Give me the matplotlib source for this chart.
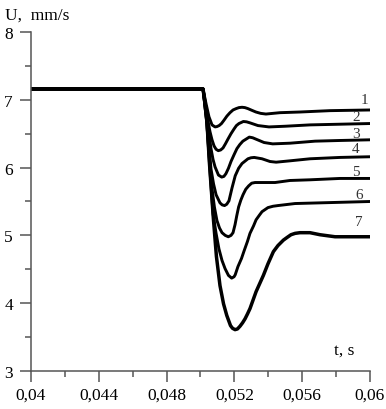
import matplotlib
matplotlib.use("Agg")
import matplotlib.pyplot as plt

plt.rcParams['font.family'] = ['Liberation Serif', 'DejaVu Serif']

# ---------------- data ----------------
# common flat part before the drop
T0 = [0.040, 0.05015]
U0 = [7.16, 7.16]

T1 = [0.05033, 0.05050, 0.05068, 0.05086, 0.05097, 0.05110, 0.05124, 0.05139, 0.05156,
      0.05174, 0.05192, 0.05210, 0.05227, 0.05245, 0.05262, 0.05280, 0.05303, 0.05327,
      0.05355, 0.05386, 0.05469, 0.05587, 0.05764, 0.06]
U1 = [6.94, 6.75, 6.63, 6.60, 6.605, 6.62, 6.65, 6.70, 6.76,
      6.81, 6.85, 6.87, 6.885, 6.89, 6.885, 6.87, 6.845, 6.82,
      6.80, 6.79, 6.81, 6.82, 6.84, 6.85]

T2 = [0.05033, 0.05044, 0.05056, 0.05068, 0.05080, 0.05092, 0.05105, 0.05119, 0.05133,
      0.05147, 0.05162, 0.05180, 0.05198, 0.05212, 0.05227, 0.05253, 0.05272, 0.05292,
      0.05339, 0.05404, 0.05499, 0.05646, 0.05823, 0.06]
U2 = [6.87, 6.69, 6.53, 6.41, 6.32, 6.27, 6.25, 6.26, 6.29,
      6.35, 6.42, 6.50, 6.57, 6.62, 6.65, 6.68, 6.675, 6.66,
      6.62, 6.60, 6.61, 6.63, 6.64, 6.65]

T3 = [0.05038, 0.05050, 0.05062, 0.05074, 0.05086, 0.05106, 0.05125, 0.05138, 0.05150,
      0.05165, 0.05180, 0.05198, 0.05215, 0.05232, 0.05250, 0.05288, 0.05308, 0.05327,
      0.05375, 0.05426, 0.05528, 0.05676, 0.05823, 0.06]
U3 = [6.75, 6.50, 6.28, 6.12, 6.01, 5.89, 5.86, 5.87, 5.91,
      5.99, 6.09, 6.19, 6.28, 6.34, 6.39, 6.45, 6.44, 6.42,
      6.37, 6.35, 6.36, 6.39, 6.40, 6.41]

T4 = [0.05038, 0.05050, 0.05062, 0.05077, 0.05092, 0.05115, 0.05128, 0.05142, 0.05155,
      0.05168, 0.05186, 0.05205, 0.05225, 0.05245, 0.05280, 0.05298, 0.05317, 0.05363,
      0.05410, 0.05446, 0.05528, 0.05646, 0.05823, 0.06]
U4 = [6.72, 6.33, 5.98, 5.76, 5.60, 5.48, 5.45, 5.44, 5.46,
      5.51, 5.70, 5.88, 5.99, 6.06, 6.13, 6.145, 6.15, 6.13,
      6.09, 6.08, 6.10, 6.13, 6.15, 6.16]

T5 = [0.05038, 0.05053, 0.05068, 0.05082, 0.05097, 0.05112, 0.05127, 0.05146, 0.05164,
      0.05180, 0.05192, 0.05204, 0.05214, 0.05225, 0.05238, 0.05251, 0.05267, 0.05284,
      0.05302, 0.05322, 0.05381, 0.05440, 0.05528, 0.05646, 0.05823, 0.06]
U5 = [6.64, 6.13, 5.69, 5.42, 5.22, 5.11, 5.04, 5.00, 4.98,
      5.00, 5.04, 5.16, 5.29, 5.42, 5.52, 5.60, 5.68, 5.73,
      5.77, 5.78, 5.78, 5.78, 5.81, 5.82, 5.84, 5.84]

T6 = [0.05038, 0.05056, 0.05074, 0.05092, 0.05109, 0.05127, 0.05145, 0.05165, 0.05184,
      0.05198, 0.05205, 0.05221, 0.05242, 0.05257, 0.05277, 0.05292, 0.05313, 0.05328,
      0.05348, 0.05363, 0.05398, 0.05428, 0.05457, 0.05558, 0.05705, 0.05853, 0.06]
U6 = [6.64, 5.95, 5.32, 5.03, 4.80, 4.63, 4.51, 4.41, 4.37,
      4.39, 4.42, 4.54, 4.66, 4.77, 4.91, 5.03, 5.14, 5.23,
      5.30, 5.35, 5.41, 5.43, 5.44, 5.47, 5.48, 5.49, 5.50]

T7 = [0.05025, 0.05037, 0.05053, 0.05076, 0.05094, 0.05115, 0.05136, 0.05155, 0.05177,
      0.05189, 0.05204, 0.05218, 0.05233, 0.05248, 0.05263, 0.05277, 0.05292, 0.05328,
      0.05371, 0.05398, 0.05430, 0.05457, 0.05489, 0.05511, 0.05534, 0.05558, 0.05587,
      0.05646, 0.05705, 0.05794, 0.06]
U7 = [6.98, 6.72, 6.06, 5.25, 4.69, 4.26, 3.99, 3.82, 3.67,
      3.63, 3.61, 3.62, 3.66, 3.71, 3.77, 3.84, 3.92, 4.17,
      4.41, 4.58, 4.76, 4.85, 4.93, 4.97, 5.01, 5.03, 5.04,
      5.04, 5.01, 4.98, 4.98]

CURVE_LABELS = ['1', '2', '3', '4', '5', '6', '7']
LABEL_T = [0.05965, 0.05917, 0.05917, 0.05917, 0.05917, 0.05935, 0.05935]
LABEL_U = [7.01, 6.75, 6.50, 6.28, 5.94, 5.61, 5.20]

X_TICKS = [0.040, 0.044, 0.048, 0.052, 0.056, 0.060]
X_TICK_LABELS = ['0,04', '0,044', '0,048', '0,052', '0,056', '0,06']
X_MINOR = [0.042, 0.046, 0.050, 0.054, 0.058]
Y_TICKS = [3, 4, 5, 6, 7, 8]
Y_MINOR = [3.5, 4.5, 5.5, 6.5, 7.5]

# ---------------- figure ----------------
fig = plt.figure(figsize=(3.86, 4.10), dpi=100)
ax = fig.add_axes([0.0803, 0.0927, 0.8782, 0.8268])

curves = [(T1, U1), (T2, U2), (T3, U3), (T4, U4), (T5, U5), (T6, U6), (T7, U7)]
for i, (t, u) in enumerate(curves):
    lw = 2.5 if i == 6 else 2.1
    ax.plot(T0 + t, U0 + u, color='black', lw=lw,
            solid_joinstyle='round', solid_capstyle='round')

for lab, tx, uy in zip(CURVE_LABELS, LABEL_T, LABEL_U):
    ax.text(tx, uy, lab, fontsize=11, ha='center', va='center', color='#333333')

ax.set_xlim(0.04, 0.06)
ax.set_ylim(3, 8)
ax.set_xticks(X_TICKS)
ax.set_xticklabels(X_TICK_LABELS)
ax.set_xticks(X_MINOR, minor=True)
ax.set_yticks(Y_TICKS)
ax.set_yticks(Y_MINOR, minor=True)

for side in ['top', 'right']:
    ax.spines[side].set_visible(False)
for side in ['left', 'bottom']:
    ax.spines[side].set_color('#555555')
    ax.spines[side].set_linewidth(1.1)

ax.tick_params(which='major', direction='out', length=8, width=1.1,
               color='#555555', labelsize=12.5)
ax.tick_params(which='minor', direction='out', length=4, width=1.1, color='#555555')
ax.tick_params(axis='y', which='major', pad=5)
ax.tick_params(axis='x', which='major', pad=3)

ax.text(0.0591, 3.26, 't, s', fontsize=12.5, ha='right', va='baseline')
fig.text(5 / 386, 1 - 20 / 410, 'U,  mm/s', fontsize=12.5, ha='left', va='baseline')

plt.savefig('out.png', dpi=100)
